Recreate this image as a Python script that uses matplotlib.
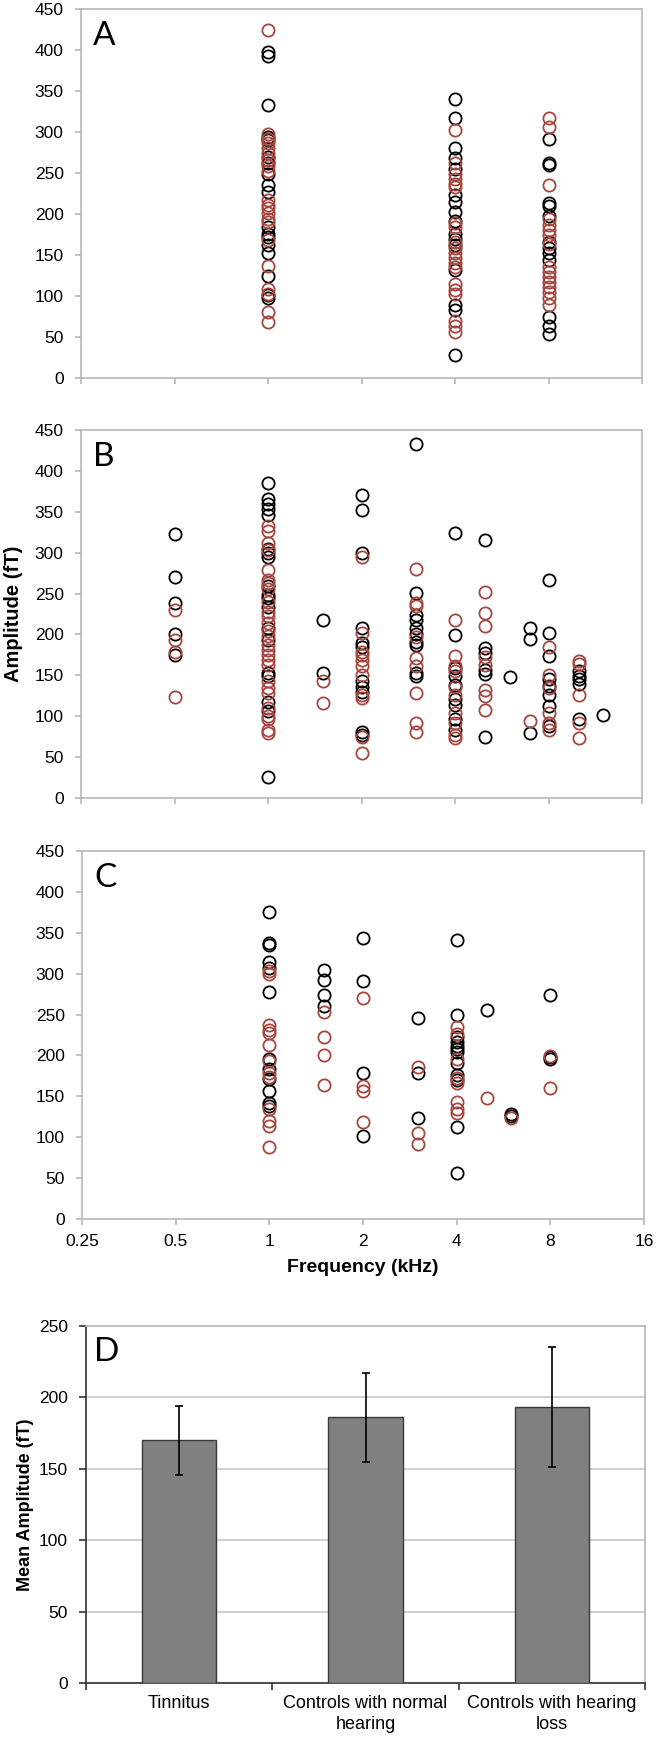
import numpy as np
import matplotlib
matplotlib.use("Agg")
import matplotlib.pyplot as plt

plt.rcParams['font.family'] = ['Liberation Sans', 'DejaVu Sans']

# ---------------- data ----------------
A_freqs = [1, 4, 8]
A_black = [
    [398, 393, 333, 294, 290, 270, 262, 249, 235, 227, 184, 176, 172, 162, 152, 125, 101, 98],
    [340, 317, 280, 268, 255, 223, 215, 203, 192, 176, 170, 162, 132, 89, 83, 28],
    [292, 262, 260, 213, 210, 197, 166, 158, 152, 144, 75, 64, 54],
]
A_red = [
    [424, 298, 292, 286, 280, 274, 266, 258, 253, 217, 211, 207, 201, 194, 190, 168, 137, 109, 103, 80, 68],
    [302, 262, 249, 243, 237, 233, 189, 184, 166, 158, 152, 146, 140, 135, 115, 107, 102, 70, 64, 56],
    [317, 306, 235, 194, 186, 180, 174, 164, 135, 129, 123, 117, 111, 105, 97, 89],
]

B_freqs = [0.5, 1, 1.5, 2, 3, 4, 5, 6, 7, 8, 10, 12]
B_black = [
    [323, 270, 238, 200, 175],
    [385, 366, 360, 354, 346, 305, 299, 295, 259, 248, 244, 234, 208, 193, 153, 149, 118, 106, 26],
    [218, 153],
    [371, 352, 300, 208, 189, 185, 143, 136, 130, 81, 77],
    [433, 251, 224, 218, 208, 200, 191, 187, 153, 149],
    [324, 199, 159, 149, 138, 121, 114, 96, 83],
    [315, 184, 177, 157, 152, 75],
    [148],
    [208, 195, 79],
    [266, 202, 174, 145, 137, 126, 112, 88],
    [155, 149, 145, 140, 96],
    [102],
]
B_red = [
    [230, 193, 179, 124],
    [332, 326, 312, 303, 279, 267, 263, 255, 240, 228, 222, 214, 204, 198, 187, 181, 175, 169, 163,
     143, 134, 128, 110, 100, 96, 83, 79],
    [143, 116],
    [295, 202, 179, 175, 169, 161, 151, 126, 122, 75, 55],
    [280, 239, 235, 197, 171, 161, 129, 92, 81],
    [218, 174, 161, 155, 136, 126, 104, 92, 77, 73],
    [252, 226, 210, 173, 163, 132, 125, 108],
    [],
    [94],
    [185, 151, 134, 104, 92, 83],
    [168, 164, 126, 92, 73],
    [],
]

C_freqs = [1, 1.5, 2, 3, 4, 5, 6, 8]
C_black = [
    [375, 338, 335, 314, 307, 278, 196, 183, 171, 157, 142, 138],
    [305, 292, 274, 260],
    [344, 291, 178, 101],
    [246, 178, 124],
    [341, 250, 222, 217, 211, 208, 204, 191, 176, 170, 113, 56],
    [255],
    [129, 126],
    [274, 198, 196],
]
C_red = [
    [303, 299, 237, 231, 227, 213, 193, 179, 174, 134, 120, 114, 88],
    [253, 222, 200, 164],
    [270, 163, 156, 119],
    [186, 105, 92],
    [235, 226, 196, 172, 166, 143, 134, 130],
    [148],
    [124],
    [199, 160],
]

x_ticks = [0.25, 0.5, 1, 2, 4, 8, 16]
x_ticklabels = ['0.25', '0.5', '1', '2', '4', '8', '16']
y_ticks = list(range(0, 451, 50))

D_groups = ['Tinnitus', 'Controls with normal\nhearing', 'Controls with hearing\nloss']
D_means = [170, 186, 193]
D_errs = [24, 31, 42]

# ---------------- layout ----------------
W, H = 656, 1737
fig = plt.figure(figsize=(W / 100, H / 100), dpi=100)


def ax_px(l, r, t, b):
    return fig.add_axes([l / W, 1 - b / H, (r - l) / W, (b - t) / H])


GRAY = '#b8b8b8'
RED = '#a5473f'
TICKFS = 12.5


def flatten(freqs, groups):
    xs, ys = [], []
    for f, g in zip(freqs, groups):
        xs += [f] * len(g)
        ys += list(g)
    return np.array(xs, dtype=float), np.array(ys, dtype=float)


def scatter_panel(ax, freqs, black, red, letter, show_xlabels):
    xb, yb = flatten(freqs, black)
    xr, yr = flatten(freqs, red)
    ax.plot(xb, yb, 'o', ms=8.8, mfc='none', mec='black', mew=1.3, clip_on=False, zorder=3)
    ax.plot(xr, yr, 'o', ms=8.8, mfc='none', mec=RED, mew=1.3, clip_on=False, zorder=3)
    ax.set_xscale('log', base=2)
    ax.set_xlim(0.25, 16)
    ax.set_ylim(0, 450)
    ax.set_xticks(x_ticks)
    ax.minorticks_off()
    if show_xlabels:
        ax.set_xticklabels(x_ticklabels)
    else:
        ax.set_xticklabels([])
    ax.set_yticks(y_ticks)
    ax.set_yticklabels([str(v) for v in y_ticks])
    for s in ax.spines.values():
        s.set_color(GRAY)
        s.set_linewidth(1.2)
    ax.tick_params(axis='both', direction='out', length=4.5, width=1.2, color=GRAY,
                   labelsize=TICKFS, labelcolor='black')
    ax.tick_params(axis='y', pad=8)
    ax.tick_params(axis='x', pad=6)
    ax.text(0.022, 0.968, letter, transform=ax.transAxes, fontsize=24, family='Lato',
            va='top', ha='left')


axA = ax_px(81, 642, 9, 378)
scatter_panel(axA, A_freqs, A_black, A_red, 'A', False)
axB = ax_px(81, 642, 430, 798)
scatter_panel(axB, B_freqs, B_black, B_red, 'B', False)
axC = ax_px(82, 644, 851, 1219)
scatter_panel(axC, C_freqs, C_black, C_red, 'C', True)

axB.set_ylabel('Amplitude (fT)', fontsize=14.5, fontweight='bold')
axB.yaxis.set_label_coords(-0.103, 0.5)
axC.set_xlabel('Frequency (kHz)', fontsize=14, fontweight='bold')
axC.xaxis.set_label_coords(0.5, -0.11)

# ---------------- panel D ----------------
axD = ax_px(86, 645, 1326, 1683)
xpos = np.arange(len(D_groups))
axD.bar(xpos, D_means, width=0.4, color='#808080', edgecolor='#3a3a3a', linewidth=1.0, zorder=3)
axD.errorbar(xpos, D_means, yerr=D_errs, fmt='none', ecolor='black', elinewidth=1.2,
             capsize=3, capthick=1.2, zorder=4)
axD.set_xlim(-0.5, len(D_groups) - 0.5)
axD.set_ylim(0, 250)
axD.set_yticks(range(0, 251, 50))
axD.yaxis.grid(True, color='#c8c8c8', linewidth=1.2, zorder=0)
axD.set_axisbelow(True)
axD.set_xticks(xpos)
axD.set_xticklabels(D_groups, fontsize=13, linespacing=1.25)
axD.set_xticks(np.arange(-0.5, len(D_groups), 1.0), minor=True)
axD.tick_params(axis='x', which='major', length=0, pad=9)
axD.tick_params(axis='x', which='minor', direction='out', length=5, width=1.2, color='#333333')
axD.tick_params(axis='y', direction='out', length=5, width=1.2, color='#333333',
                labelsize=TICKFS, pad=8)
for k in ['top', 'right']:
    axD.spines[k].set_color(GRAY)
    axD.spines[k].set_linewidth(1.2)
for k in ['left', 'bottom']:
    axD.spines[k].set_color('#333333')
    axD.spines[k].set_linewidth(1.2)
axD.set_ylabel('Mean Amplitude (fT)', fontsize=13, fontweight='bold')
axD.yaxis.set_label_coords(-0.093, 0.5)
axD.text(0.015, 0.968, 'D', transform=axD.transAxes, fontsize=24, family='Lato',
         va='top', ha='left')

fig.savefig('out.png', dpi=100)
